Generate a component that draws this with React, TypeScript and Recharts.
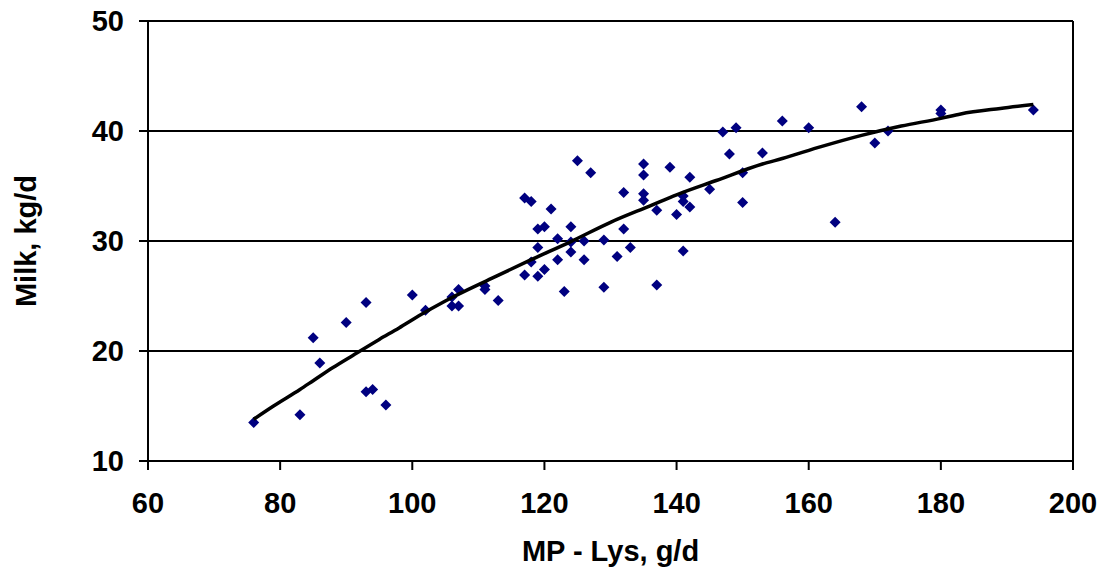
import {
    ScatterChart,
    Scatter,
    XAxis,
    YAxis,
    CartesianGrid,
    ReferenceLine,
} from "recharts";

// measured points (MP-Lys g/d vs milk kg/d)
const lysX = [
    76, 83, 85, 86, 90, 93, 93, 94, 96, 100, 102, 106, 106, 107, 107, 111, 111, 113,
    117, 118, 121, 119, 120, 122, 124, 124, 124, 119, 118, 122, 120, 117, 119, 123,
    125, 127, 126, 126, 129, 129, 131, 132, 132, 133, 135, 135, 135, 135, 137, 137,
    139, 140, 141, 141, 142, 142, 141, 147, 149, 148, 153, 150, 150, 145, 156, 160,
    164, 168, 170, 172, 180, 180, 194,
];
const milkY = [
    13.5, 14.2, 21.2, 18.9, 22.6, 24.4, 16.3, 16.5, 15.1, 25.1, 23.7, 24.9, 24.1, 25.6, 24.1, 25.9, 25.6, 24.6,
    33.9, 33.6, 32.9, 31.1, 31.3, 30.2, 31.3, 29.9, 29.0, 29.4, 28.1, 28.3, 27.4, 26.9, 26.8, 25.4,
    37.3, 36.2, 30.0, 28.3, 30.1, 25.8, 28.6, 34.4, 31.1, 29.4, 37.0, 36.0, 34.3, 33.7, 32.8, 26.0,
    36.7, 32.4, 34.1, 33.6, 35.8, 33.1, 29.1, 39.9, 40.3, 37.9, 38.0, 36.2, 33.5, 34.7, 40.9, 40.3,
    31.7, 42.2, 38.9, 40.0, 41.9, 41.6, 41.9,
];

// trend line
const fitX = [76, 79, 83, 85, 88, 91, 95, 98, 101, 105, 112, 118, 124, 130, 136, 140, 146, 153, 156, 162, 168, 174, 180, 183, 189, 194];
const fitY = [13.8, 15.0, 16.5, 17.3, 18.5, 19.6, 21.05, 22.1, 23.2, 24.55, 26.6, 28.3, 29.95, 31.7, 33.2, 34.2, 35.5, 37.0, 37.5, 38.6, 39.6, 40.45, 41.15, 41.55, 42.05, 42.4];

const xTicks = [60, 80, 100, 120, 140, 160, 180, 200];
const yTicks = [10, 20, 30, 40, 50];

const FONT = "'Liberation Sans', Arial, sans-serif";

const points = lysX.map((x, i) => ({ x, y: milkY[i] }));
const fit = fitX.map((x, i) => ({ x, y: fitY[i] }));

const Diamond = (props: any) => {
    const { cx, cy } = props;
    if (cx == null || cy == null) return <g />;
    const r = 5.5;
    return (
        <path
            d={`M${cx},${cy - r}L${cx + r},${cy}L${cx},${cy + r}L${cx - r},${cy}Z`}
            fill="#000080"
        />
    );
};

const tickStyle = { fontSize: 29, fontWeight: 700, fontFamily: FONT, fill: "#000" };

export default function App() {
    return (
        <div style={{ position: "absolute", left: 0, top: 0, background: "#fff" }}>
            <ScatterChart
                width={1107}
                height={571}
                margin={{ top: 21, right: 34, bottom: 0, left: 0 }}
            >
                <CartesianGrid
                    horizontal
                    vertical={false}
                    stroke="#000"
                    strokeWidth={1.5}
                    shapeRendering="crispEdges"
                />
                <XAxis
                    type="number"
                    dataKey="x"
                    domain={[60, 200]}
                    ticks={xTicks}
                    height={110}
                    tick={tickStyle}
                    tickSize={9}
                    tickMargin={22}
                    axisLine={{ stroke: "#000", strokeWidth: 2 }}
                    tickLine={{ stroke: "#000", strokeWidth: 2 }}
                    label={{
                        value: "MP - Lys, g/d",
                        position: "insideBottom",
                        offset: 10,
                        style: { ...tickStyle, textAnchor: "middle" },
                    }}
                />
                <YAxis
                    type="number"
                    dataKey="y"
                    domain={[10, 50]}
                    ticks={yTicks}
                    width={148}
                    tick={tickStyle}
                    tickSize={9}
                    tickMargin={15}
                    axisLine={{ stroke: "#000", strokeWidth: 2 }}
                    tickLine={{ stroke: "#000", strokeWidth: 2 }}
                    label={{
                        content: () => (
                            <text
                                x={26}
                                y={241}
                                transform="rotate(-90 26 241)"
                                textAnchor="middle"
                                dominantBaseline="central"
                                style={tickStyle}
                            >
                                Milk, kg/d
                            </text>
                        ),
                    }}
                />
                <ReferenceLine y={50} stroke="#000" strokeWidth={2} />
                <ReferenceLine x={200} stroke="#000" strokeWidth={2} />
                <Scatter data={points} shape={<Diamond />} isAnimationActive={false} />
                <Scatter
                    data={fit}
                    line={{ stroke: "#000", strokeWidth: 3.5 }}
                    lineJointType="monotoneX"
                    shape={() => <g />}
                    isAnimationActive={false}
                />
            </ScatterChart>
        </div>
    );
}
